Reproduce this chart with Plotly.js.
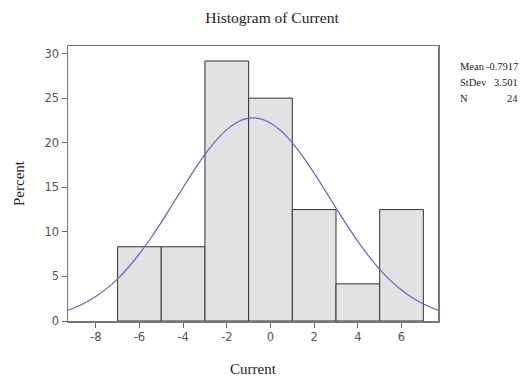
<!DOCTYPE html>
<html>
<head>
<meta charset="utf-8">
<script src="https://cdn.plot.ly/plotly-3.0.1.min.js"></script>
<style>html,body{margin:0;padding:0;background:#fff;}#chart{width:521px;height:377px;}</style>
</head>
<body>
<div id="chart"></div>
<script>
// Histogram bins (bin centers, bin width 2) and percent heights
var binCenters = [-6, -4, -2, 0, 2, 4, 6];
var binWidth = 2;
var percents = [8.33, 8.33, 29.17, 25.0, 12.5, 4.17, 12.5];

// Fitted normal curve
var curveX = [-9.27, -9, -8.5, -8, -7.5, -7, -6.5, -6, -5.5, -5, -4.5, -4, -3.5, -3, -2.5, -2, -1.5, -1, -0.5, 0, 0.5, 1, 1.5, 2, 2.5, 3, 3.5, 4, 4.5, 5, 5.5, 6, 6.5, 7, 7.5, 7.67];
var curveY = [1.22, 1.46, 2.02, 2.74, 3.63, 4.73, 6.03, 7.54, 9.23, 11.07, 13.01, 14.98, 16.90, 18.68, 20.23, 21.47, 22.33, 22.75, 22.71, 22.22, 21.29, 19.99, 18.39, 16.58, 14.65, 12.68, 10.75, 8.93, 7.27, 5.80, 4.53, 3.47, 2.60, 1.91, 1.38, 1.22];

// Tick labels
var xTickVals = [-8, -6, -4, -2, 0, 2, 4, 6];
var xTickText = ["-8", "-6", "-4", "-2", "0", "2", "4", "6"];
var yTickVals = [0, 5, 10, 15, 20, 25, 30];

// Summary statistics
var statLabels = ["Mean", "StDev", "N"];
var statValues = ["-0.7917", "3.501", "24"];

var serif = "Liberation Serif, DejaVu Serif, serif";
var sans = "DejaVu Sans, Liberation Sans, sans-serif";

var traces = [
  {
    type: "bar",
    x: binCenters,
    y: percents,
    width: binCenters.map(function(){return binWidth;}),
    marker: {color: "#e2e2e2", line: {color: "#333333", width: 1}},
    hoverinfo: "skip"
  },
  {
    type: "scatter",
    mode: "lines",
    x: curveX,
    y: curveY,
    line: {color: "#6262c8", width: 1.2, shape: "spline"},
    hoverinfo: "skip"
  }
];

var rowsY = [0.925, 0.868, 0.81];
var annotations = [];
for (var i = 0; i < statLabels.length; i++) {
  annotations.push({xref: "paper", yref: "paper", x: 1.053, y: rowsY[i], xanchor: "left", yanchor: "middle",
    text: statLabels[i], showarrow: false, font: {family: serif, size: 10.5, color: "#222"}});
  annotations.push({xref: "paper", yref: "paper", x: 1.2216, y: rowsY[i], xanchor: "right", yanchor: "middle",
    text: statValues[i], showarrow: false, font: {family: serif, size: 10.5, color: "#222"}});
}

var layout = {
  width: 521, height: 377,
  margin: {l: 68, r: 83, t: 46, b: 56},
  paper_bgcolor: "#ffffff",
  plot_bgcolor: "#ffffff",
  showlegend: false,
  bargap: 0,
  title: {text: "Histogram of Current", font: {family: serif, size: 15.5, color: "#222"},
          x: 272/521, xanchor: "center", y: 1 - 17.3/377, yanchor: "middle", xref: "container", yref: "container"},
  xaxis: {
    range: [-9.27, 7.67],
    tickvals: xTickVals, ticktext: xTickText,
    ticks: "outside", ticklen: 5, tickcolor: "#666", tickwidth: 1,
    showline: true, linecolor: "#777", linewidth: 1.5, mirror: true,
    showgrid: false, zeroline: false,
    tickfont: {family: sans, size: 11.5, color: "#555"},
    title: {text: "Current", font: {family: serif, size: 15, color: "#222"}, standoff: 20}
  },
  yaxis: {
    range: [0, 30.85],
    tickvals: yTickVals,
    ticks: "outside", ticklen: 5, tickcolor: "#666", tickwidth: 1,
    showline: true, linecolor: "#777", linewidth: 1.5, mirror: true,
    showgrid: false, zeroline: false,
    tickfont: {family: sans, size: 11.5, color: "#555"},
    title: {text: "Percent", font: {family: serif, size: 15, color: "#222"}, standoff: 16}
  },
  annotations: annotations
};

Plotly.newPlot("chart", traces, layout, {displayModeBar: false, staticPlot: true});
</script>
</body>
</html>
